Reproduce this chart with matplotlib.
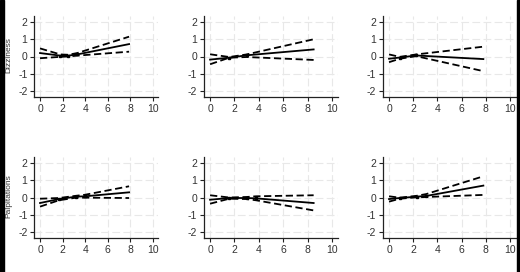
import matplotlib
matplotlib.use("Agg")
import matplotlib.pyplot as plt
from matplotlib.patches import Rectangle

plt.rcParams['font.family'] = ['Liberation Sans', 'DejaVu Sans']
plt.rcParams['axes.unicode_minus'] = False

# Data: knots (x) with estimate and 95% band per panel
row_labels = ['Dizziness', 'Palpitations']

x_d1 = [0, 1.8, 2.5, 3.3, 7.9]
est_d1 = [0.2, 0.05, 0.05, 0.12, 0.72]
hi_d1 = [0.47, 0.12, 0.1, 0.2, 1.15]
lo_d1 = [-0.1, -0.02, 0.0, 0.05, 0.28]

x_d2 = [0, 1.57, 3.0, 8.5]
est_d2 = [-0.18, -0.07, 0.07, 0.41]
hi_d2 = [0.13, -0.03, 0.12, 1.0]
lo_d2 = [-0.45, -0.07, -0.03, -0.2]

x_d3 = [0, 0.88, 2.25, 7.8]
est_d3 = [-0.13, -0.06, 0.06, -0.15]
hi_d3 = [0.12, -0.02, 0.12, 0.57]
lo_d3 = [-0.33, -0.13, 0.02, -0.85]

x_p1 = [0, 1.68, 3.2, 4.0, 7.9]
est_p1 = [-0.32, -0.09, 0.05, 0.07, 0.3]
hi_p1 = [-0.07, -0.03, 0.1, 0.16, 0.65]
lo_p1 = [-0.53, -0.16, -0.01, -0.01, -0.03]

x_p2 = [0, 1.57, 3.0, 3.76, 8.5]
est_p2 = [-0.13, -0.03, -0.03, -0.05, -0.32]
hi_p2 = [0.13, 0.0, 0.03, 0.07, 0.13]
lo_p2 = [-0.36, -0.07, -0.09, -0.16, -0.75]

x_p3 = [0, 0.88, 2.3, 3.08, 7.8]
est_p3 = [-0.09, -0.03, 0.05, 0.09, 0.69]
hi_p3 = [0.07, -0.01, 0.1, 0.2, 1.23]
lo_p3 = [-0.24, -0.07, 0.01, 0.03, 0.15]

panels = [
    [(x_d1, est_d1, hi_d1, lo_d1), (x_d2, est_d2, hi_d2, lo_d2), (x_d3, est_d3, hi_d3, lo_d3)],
    [(x_p1, est_p1, hi_p1, lo_p1), (x_p2, est_p2, hi_p2, lo_p2), (x_p3, est_p3, hi_p3, lo_p3)],
]

W, H = 520, 272
fig = plt.figure(figsize=(W / 100, H / 100), dpi=100)

# pixel boxes: (left, width) per column, (top, bottom) per row
cols = [(34.4, 124), (204, 134), (383, 133)]
rows = [(16, 97), (157, 238)]

for r, (top, bot) in enumerate(rows):
    for c, (left, width) in enumerate(cols):
        ax = fig.add_axes([left / W, 1 - bot / H, width / W, (bot - top) / H])
        x, est, hi, lo = panels[r][c]
        ax.plot(x, hi, color='black', lw=1.3, linestyle=(0, (4, 2)))
        ax.plot(x, lo, color='black', lw=1.3, linestyle=(0, (4, 2)))
        ax.plot(x, est, color='black', lw=1.3)
        ax.plot(x[1:-1], est[1:-1], 's', color='black', ms=2)
        ax.set_xlim(-0.5, 10.5)
        ax.set_ylim(-2.35, 2.35)
        ax.set_xticks([0, 2, 4, 6, 8, 10])
        ax.set_yticks([-2, -1, 0, 1, 2])
        ax.grid(True, color='#e8e8e8', linestyle=(0, (7, 3)), lw=0.8)
        ax.set_axisbelow(True)
        for s in ['top', 'right']:
            ax.spines[s].set_visible(False)
        for s in ['left', 'bottom']:
            ax.spines[s].set_linewidth(0.9)
            ax.spines[s].set_color('#222222')
        ax.tick_params(length=3, width=0.8, labelsize=7.5, pad=2,
                       labelcolor='#333333', color='#222222')
        if c == 0:
            fig.text(8.5 / W, 1 - ((top + bot) / 2 - 1) / H, row_labels[r], rotation=90,
                     ha='center', va='center', fontsize=6, color='#333333')

# black edges at both sides
fig.patches.append(Rectangle((0, 0), 4 / W, 1, transform=fig.transFigure,
                             color='black', zorder=10))
fig.patches.append(Rectangle((516.5 / W, 0), 4 / W, 1, transform=fig.transFigure,
                             color='black', zorder=10))

fig.savefig('out.png', dpi=100)
